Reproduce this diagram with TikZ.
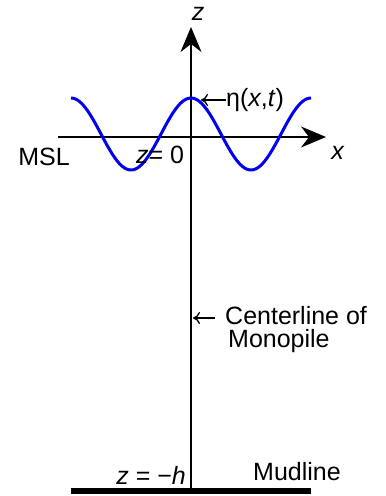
\documentclass[tikz,border=0pt]{standalone}
\usepackage{fontspec}
\setmainfont{Liberation Sans}
\usetikzlibrary{arrows.meta, positioning}
\definecolor{waveblue}{HTML}{0000EE}
\tikzset{
  >={Stealth[length=25pt, width=21pt, inset=8pt]},
  every picture/.style={line join=round},
  axis/.style={line width=1.3pt},
  wave/.style={waveblue, line width=3pt},
  seabed/.style={line width=5.5pt},
  lbl/.style={inner sep=0pt, font=\fontsize{25}{23}\selectfont},
  pointer/.style={line width=1.3pt, -{To[length=7pt, width=12pt]}},
}
\begin{document}
\begin{tikzpicture}[x=1pt, y=1pt]
  \useasboundingbox (0,0) rectangle (386,-496);
  % axes, origin at MSL on the pile centerline
  \coordinate (ztip) at (191,-27);
  \coordinate (xstart) at (58,-137);
  \coordinate (xtip) at (326,-137);
  \coordinate (pilefoot) at (191,-491);
  \draw[axis, ->] (pilefoot) -- (ztip);
  \draw[axis, ->] (xstart) -- (xtip);
  % mudline
  \coordinate (bedL) at (71,-491);
  \coordinate (bedR) at (311,-491);
  \draw[seabed] (bedL) -- (bedR);
  % free surface eta(x,t)
  \draw[wave, domain=71:311, samples=120, smooth] plot (\x, {-134 + 36*cos(3*(\x-191))});
  % labels
  \node[lbl] (zlab) at (198,-14) {\textit{z}};
  \node[lbl] (xlab) at (338,-153) {\textit{x}};
  \node[lbl] (msl) at (44,-157) {MSL};
  \node[lbl] (zzero) at (160,-155) {\textit{z}= 0};
  \node[lbl, anchor=west] (eta) at (226,-100) {η(\textit{x},\textit{t})};
  \coordinate (crest) at (201,-100);
  \draw[pointer] (eta.west) -- (crest);
  \node[lbl, anchor=north west, align=left] (cl) at (225,-306) {Centerline of\\\hspace{3pt}Monopile};
  \coordinate (pileaxis) at (193,-318);
  \coordinate (cltail) at (215,-318);
  \draw[pointer] (cltail) -- (pileaxis);
  \node[lbl, anchor=east] (zh) at (186,-475) {\textit{z} = −\textit{h}};
  \node[lbl] (mud) at (297,-472) {Mudline};
\end{tikzpicture}
\end{document}
